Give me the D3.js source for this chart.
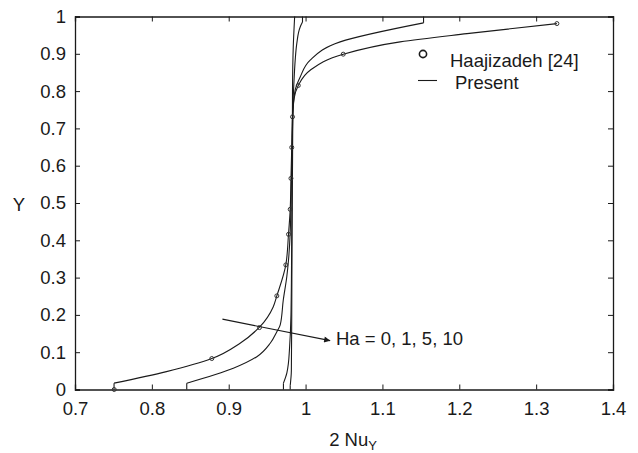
<!DOCTYPE html>
<html>
<head>
<meta charset="utf-8">
<script src="https://cdn.jsdelivr.net/npm/d3@7"></script>
<style>
  body { margin: 0; background: #fff; }
  text { font-family: "Liberation Sans", Arial, sans-serif; fill: #1a1a1a; }
</style>
</head>
<body>
<svg id="chart" width="638" height="453"></svg>
<script>
// data: [2 Nu_Y, Y]
var ha0 = [[0.7508,0],[0.7508,0.017],[0.819,0.048],[0.878,0.083],[0.9148,0.124],[0.940,0.167],
  [0.958,0.222],[0.9626,0.251],[0.9743,0.334],[0.9778,0.416],[0.980,0.483],[0.981,0.566],
  [0.982,0.649],[0.983,0.731],[0.985,0.78],[0.9905,0.815],[1.006,0.856],[1.049,0.899],
  [1.123,0.932],[1.21,0.954],[1.327,0.981]];
var ha1 = [[0.8454,0],[0.8454,0.017],[0.906,0.057],[0.9366,0.088],[0.954,0.124],[0.9626,0.155],
  [0.967,0.173],[0.971,0.240],[0.9756,0.303],[0.9778,0.347],[0.980,0.42],[0.981,0.5],
  [0.982,0.6],[0.983,0.7],[0.9838,0.75],[0.9865,0.803],[0.993,0.838],[1.006,0.883],
  [1.045,0.932],[1.1535,0.983],[1.1535,1.0]];
var ha5 = [[0.9712,0],[0.9712,0.017],[0.9756,0.044],[0.9777,0.071],[0.979,0.106],[0.981,0.2],
  [0.982,0.4],[0.983,0.6],[0.9835,0.75],[0.9852,0.838],[0.9865,0.883],[0.9886,0.928],
  [0.993,0.972],[0.996,0.985],[0.996,1.0]];
var ha10 = [[0.980,0],[0.980,0.01],[0.9815,0.05],[0.982,0.2],[0.9825,0.5],[0.983,0.8],
  [0.984,0.92],[0.9858,1.0]];
var haajizadeh = [[0.751,0],[0.878,0.083],[0.940,0.166],[0.9626,0.251],[0.9743,0.334],
  [0.9778,0.416],[0.980,0.483],[0.981,0.566],[0.982,0.649],[0.983,0.731],[0.9905,0.815],
  [1.049,0.899],[1.327,0.981]];
var xTicks = [0.7,0.8,0.9,1,1.1,1.2,1.3,1.4];
var yTicks = [0,0.1,0.2,0.3,0.4,0.5,0.6,0.7,0.8,0.9,1];
var seriesList = [ha0, ha1, ha5, ha10];

var mLeft = 75, mRight = 613, mTop = 16.5, mBottom = 389.5;
var ink = "#1a1a1a";
var svg = d3.select("#chart");

var x = d3.scaleLinear().domain([0.7, 1.4]).range([mLeft, mRight]);
var y = d3.scaleLinear().domain([0, 1]).range([mBottom, mTop]);
var fmt = function(d){ return String(+d.toFixed(1)); };

// axes, ticks inside on all four sides
var axB = svg.append("g").attr("transform", `translate(0,${mBottom})`)
  .call(d3.axisBottom(x).tickValues(xTicks).tickSize(-5).tickPadding(12).tickFormat(fmt));
var axT = svg.append("g").attr("transform", `translate(0,${mTop})`)
  .call(d3.axisTop(x).tickValues(xTicks).tickSize(-5).tickFormat(""));
var axL = svg.append("g").attr("transform", `translate(${mLeft},0)`)
  .call(d3.axisLeft(y).tickValues(yTicks).tickSize(-5).tickPadding(9).tickFormat(fmt));
var axR = svg.append("g").attr("transform", `translate(${mRight},0)`)
  .call(d3.axisRight(y).tickValues(yTicks).tickSize(-5).tickFormat(""));
[axB, axT, axL, axR].forEach(function(g){
  g.attr("font-size", 18.5).attr("font-family", '"Liberation Sans", Arial, sans-serif');
  g.select(".domain").attr("stroke", ink).attr("stroke-width", 1.3);
  g.selectAll(".tick line").attr("stroke", ink);
  g.selectAll(".tick text").attr("fill", ink);
});

// curves: vertical end stubs straight, the rest smooth
var smooth = d3.line().x(function(d){ return x(d[0]); }).y(function(d){ return y(d[1]); })
  .curve(d3.curveMonotoneY);
var straight = d3.line().x(function(d){ return x(d[0]); }).y(function(d){ return y(d[1]); });
function pieces(s) {
  var out = [], a = 0, b = s.length;
  if (s[0][0] === s[1][0]) { out.push(straight(s.slice(0, 2))); a = 1; }
  if (s[b-1][0] === s[b-2][0]) { out.push(straight(s.slice(b-2))); b = b - 1; }
  out.push(smooth(s.slice(a, b)));
  return out;
}
var curves = svg.append("g");
seriesList.forEach(function(s){
  curves.selectAll(null).data(pieces(s)).enter().append("path")
    .attr("d", function(d){ return d; }).attr("fill", "none")
    .attr("stroke", ink).attr("stroke-width", 1.1);
});

// reference points
svg.append("g").selectAll("circle").data(haajizadeh).enter().append("circle")
  .attr("cx", function(d){ return x(d[0]); }).attr("cy", function(d){ return y(d[1]); })
  .attr("r", 2).attr("fill", "none").attr("stroke", "#333").attr("stroke-width", 1);

// legend
svg.append("circle").attr("cx", 423).attr("cy", 54).attr("r", 3.6)
  .attr("fill", "none").attr("stroke", ink).attr("stroke-width", 1.6);
svg.append("text").attr("x", 450).attr("y", 67).attr("font-size", 18.5).text("Haajizadeh [24]");
svg.append("line").attr("x1", 418).attr("x2", 437).attr("y1", 80.5).attr("y2", 80.5)
  .attr("stroke", ink).attr("stroke-width", 1.1);
svg.append("text").attr("x", 455).attr("y", 89).attr("font-size", 18.5).text("Present");

// arrow annotation
svg.append("defs").append("marker").attr("id", "ah").attr("viewBox", "0 0 10 10")
  .attr("refX", 10).attr("refY", 5).attr("markerWidth", 9).attr("markerHeight", 6)
  .attr("markerUnits", "userSpaceOnUse").attr("orient", "auto")
  .append("path").attr("d", "M0,0L10,5L0,10Z").attr("fill", ink);
svg.append("line").attr("x1", x(0.8918)).attr("y1", y(0.1886)).attr("x2", x(1.032)).attr("y2", y(0.131))
  .attr("stroke", ink).attr("stroke-width", 1.1).attr("marker-end", "url(#ah)");
svg.append("text").attr("x", 336).attr("y", 345).attr("font-size", 18.5).text("Ha = 0, 1, 5, 10");

// axis titles
var xt = svg.append("text").attr("x", 353).attr("y", 446).attr("text-anchor", "middle").attr("font-size", 18.5);
xt.append("tspan").text("2 Nu");
xt.append("tspan").attr("font-size", 13).attr("dy", 4).text("Y");
svg.append("text").attr("x", 19).attr("y", 211).attr("text-anchor", "middle")
  .attr("font-size", 18.5).text("Y");
</script>
</body>
</html>
